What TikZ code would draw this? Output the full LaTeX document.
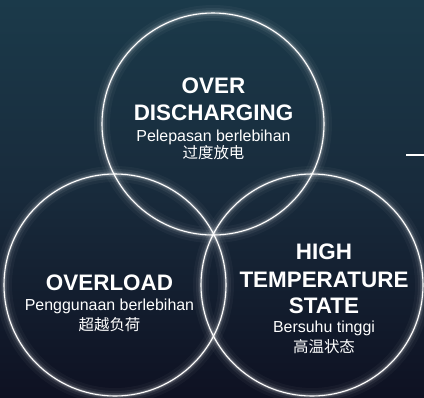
\documentclass[tikz,border=0pt]{standalone}
\usepackage{fontspec}
\setmainfont{Liberation Sans}
\newfontfamily\cjk{Noto Sans CJK SC}
\definecolor{bgtop}{HTML}{1B3A4A}
\definecolor{bgmid}{HTML}{182A3B}
\definecolor{bgbot}{HTML}{0E1122}
\tikzset{
  ring/.style={circle, minimum size=222bp, inner sep=0pt, draw=white, line width=1.1bp,
    preaction={draw=white, line width=16bp, opacity=0.035},
    preaction={draw=white, line width=10bp, opacity=0.06},
    preaction={draw=white, line width=5.5bp, opacity=0.1},
    preaction={draw=white, line width=2.8bp, opacity=0.2}},
  ttl/.style={anchor=base, text=white, inner sep=0pt, font=\fontsize{22.5}{27}\selectfont\bfseries},
  sub/.style={anchor=base, text=white, inner sep=0pt, font=\fontsize{16}{19}\selectfont},
  zh/.style={anchor=base, text=white, inner sep=0pt, font=\fontsize{15.5}{19}\selectfont\cjk},
}
\begin{document}
\begin{tikzpicture}[x=1bp, y=-1bp]
\useasboundingbox (0,0) rectangle (424,398);
\shade[top color=bgtop, bottom color=bgbot, middle color=bgmid] (0,0) rectangle (424,398);
% circles
\node[ring] (ctop) at (213,124) {};
\node[ring] (cleft) at (115,285) {};
\node[ring] (cright) at (312,285) {};
% short line at the right edge
\coordinate (ma) at (406,155);
\coordinate (mb) at (424,155);
\draw[white, line width=2bp] (ma) -- (mb);
% top circle text
\node[ttl] (t1) at (213.5,93) {OVER};
\node[ttl] (t2) at (213.5,120) {DISCHARGING};
\node[sub] (t3) at (213.5,141) {Pelepasan berlebihan};
\node[zh] (t4) at (213.5,158) {过度放电};
% left circle text
\node[ttl] (l1) at (109.5,290) {OVERLOAD};
\node[sub] (l2) at (109.5,310) {Penggunaan berlebihan};
\node[zh] (l3) at (109.5,330.5) {超越负荷};
% right circle text
\node[ttl] (r1) at (324,259) {HIGH};
\node[ttl] (r2) at (324,287) {TEMPERATURE};
\node[ttl] (r3) at (324,313) {STATE};
\node[sub] (r4) at (324,332) {Bersuhu tinggi};
\node[zh] (r5) at (324,352) {高温状态};
\end{tikzpicture}
\end{document}
